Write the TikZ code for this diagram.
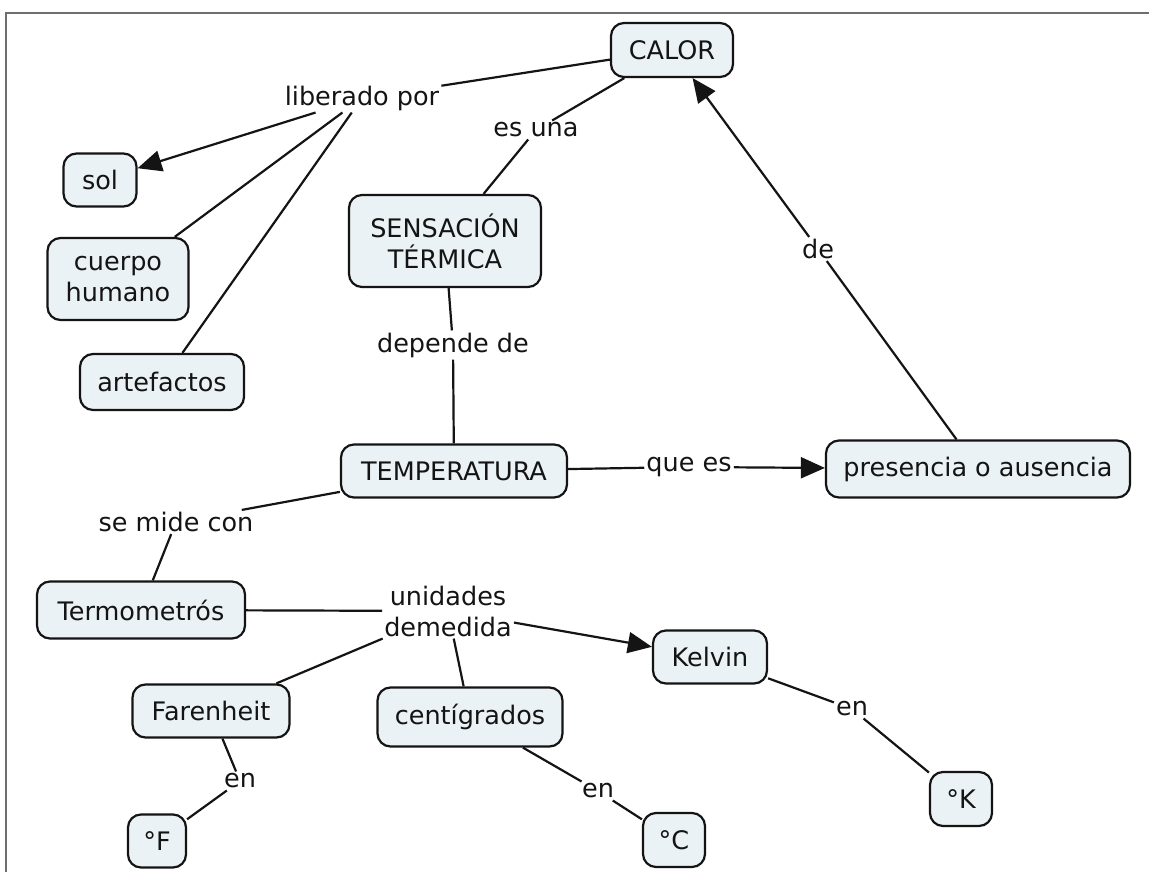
\documentclass[tikz,border=0pt]{standalone}
\usepackage{fontspec}
\setmainfont{DejaVu Sans}
\usetikzlibrary{arrows.meta}
\definecolor{conceptfill}{RGB}{235,242,245}
\definecolor{ink}{RGB}{20,20,20}
\definecolor{framegray}{RGB}{110,110,110}
\begin{document}
\begin{tikzpicture}[x=1pt,y=-1pt,
  concept/.style={draw=ink, fill=conceptfill, line width=2.2pt, rounded corners=13pt,
    align=center, inner sep=0pt, text=ink, font=\fontsize{25.5}{31}\selectfont},
  linkword/.style={align=center, inner sep=2pt, text=ink, font=\fontsize{25.5}{31}\selectfont},
  link/.style={draw=ink, line width=2.2pt},
  arrowlink/.style={link, -{Triangle[length=24pt,width=21pt]}}
]
\useasboundingbox (0,0) rectangle (1149,872);
\fill[white] (0,0) rectangle (1149,872);
% outer frame (left and top edges)
\draw[framegray, line width=2pt] (6,872) -- (6,13) -- (1149,13);

% concepts
\node[concept, minimum width=122, minimum height=54] (calor) at (672,50) {CALOR};
\node[concept, minimum width=73, minimum height=53] (sol) at (100,180) {sol};
\node[concept, minimum width=141, minimum height=82] (cuerpo) at (118,279) {cuerpo\\humano};
\node[concept, minimum width=164, minimum height=56] (artef) at (162,382) {artefactos};
\node[concept, minimum width=192, minimum height=92] (sens) at (445,241) {SENSACIÓN\\TÉRMICA};
\node[concept, minimum width=226, minimum height=53] (temp) at (454,471) {TEMPERATURA};
\node[concept, minimum width=304, minimum height=57] (pres) at (978,469) {presencia o ausencia};
\node[concept, minimum width=208, minimum height=57] (termo) at (141,610) {Termometrós};
\node[concept, minimum width=157, minimum height=53] (faren) at (211,711) {Farenheit};
\node[concept, minimum width=185, minimum height=59] (centi) at (470,717) {centígrados};
\node[concept, minimum width=114, minimum height=53] (kelvin) at (710,657) {Kelvin};
\node[concept, minimum width=58, minimum height=53] (gf) at (157,841) {°F};
\node[concept, minimum width=62, minimum height=54] (gc) at (674,840) {°C};
\node[concept, minimum width=62, minimum height=54] (gk) at (961,799) {°K};

% linking words
\node[linkword] (libpor) at (362,98) {liberado por};
\node[linkword] (esuna) at (536,130) {es una};
\node[linkword] (de) at (818,249) {de};
\node[linkword] (depde) at (453,345) {depende de};
\node[linkword] (quees) at (689,467) {que es};
\node[linkword] (semide) at (176,522) {se mide con};
\node[linkword] (unid) at (448,611) {unidades\\demedida};
\node[linkword] (enf) at (240,781) {en};
\node[linkword] (enc) at (598,791) {en};
\node[linkword] (enk) at (852,709) {en};

% connectors
\draw[link] (calor) -- (libpor);
\draw[arrowlink] (libpor) -- (sol);
\draw[link] (libpor) -- (cuerpo);
\draw[link] (libpor) -- (artef);
\draw[link] (calor) -- (esuna);
\draw[link] (esuna) -- (sens);
\draw[link] (sens) -- (depde);
\draw[link] (depde) -- (temp);
\draw[link] (temp) -- (quees);
\draw[arrowlink] (quees) -- (pres);
\draw[link] (pres) -- (de);
\draw[arrowlink] (de) -- (calor);
\draw[link] (temp) -- (semide);
\draw[link] (semide) -- (termo);
\draw[link] (termo) -- (unid);
\draw[arrowlink] (unid) -- (kelvin);
\draw[link] (unid) -- (faren);
\draw[link] (unid) -- (centi);
\draw[link] (faren) -- (enf);
\draw[link] (enf) -- (gf);
\draw[link] (centi) -- (enc);
\draw[link] (enc) -- (gc);
\draw[link] (kelvin) -- (enk);
\draw[link] (enk) -- (gk);
\end{tikzpicture}
\end{document}
